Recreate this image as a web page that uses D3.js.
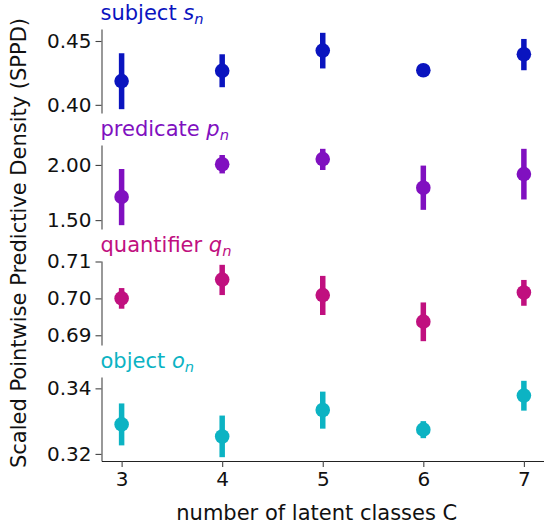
<!DOCTYPE html>
<html>
<head>
<meta charset="utf-8">
<script src="https://cdn.jsdelivr.net/npm/d3@7"></script>
<style>
  html, body { margin: 0; padding: 0; background: #fff; }
  svg { display: block; }
  text { font-family: "DejaVu Sans", sans-serif; }
</style>
</head>
<body>
<svg id="chart" width="544" height="527"></svg>
<script>
// ---- data ----
const classes = [3, 4, 5, 6, 7];

const subjectMean = [0.4186, 0.4266, 0.4425, 0.4271, 0.4396];
const subjectLow  = [0.3966, 0.4138, 0.4285, 0.4271, 0.4271];
const subjectHigh = [0.4404, 0.4396, 0.4564, 0.4271, 0.4516];

const predicateMean = [1.710, 2.006, 2.053, 1.793, 1.917];
const predicateLow  = [1.454, 1.923, 1.954, 1.593, 1.687];
const predicateHigh = [1.963, 2.090, 2.146, 1.994, 2.146];

const quantifierMean = [0.7000, 0.7051, 0.7009, 0.6937, 0.7016];
const quantifierLow  = [0.6972, 0.7009, 0.6955, 0.6884, 0.6980];
const quantifierHigh = [0.7028, 0.7091, 0.7061, 0.6989, 0.7050];

const objectMean = [0.3290, 0.3253, 0.3334, 0.3274, 0.3378];
const objectLow  = [0.3226, 0.3190, 0.3277, 0.3248, 0.3332];
const objectHigh = [0.3354, 0.3317, 0.3390, 0.3300, 0.3423];

const subjectTicks = [0.40, 0.45];
const predicateTicks = [1.50, 2.00];
const quantifierTicks = [0.69, 0.70, 0.71];
const objectTicks = [0.32, 0.34];

const panelNames = ["subject", "predicate", "quantifier", "object"];
const panelSymbols = ["s", "p", "q", "o"];
const panelColors = ["#0a14bf", "#8010c0", "#c0107f", "#0cb3c3"];

const xLabel = "number of latent classes C";
const yLabel = "Scaled Pointwise Predictive Density (SPPD)";

// ---- layout ----
const W = 544, H = 527;
const left = 101.5, right = 544;
const top0 = 29, panelH = 84, gap = 32;
const fsTick = 20;
const fsLabel = 21;

const svg = d3.select("#chart");

const x = d3.scaleLinear().domain([2.8, 7.2]).range([left, right]);

const panels = [
  {mean: subjectMean, low: subjectLow, high: subjectHigh, ticks: subjectTicks},
  {mean: predicateMean, low: predicateLow, high: predicateHigh, ticks: predicateTicks},
  {mean: quantifierMean, low: quantifierLow, high: quantifierHigh, ticks: quantifierTicks},
  {mean: objectMean, low: objectLow, high: objectHigh, ticks: objectTicks}
];

panels.forEach((p, i) => {
  const t = top0 + i * (panelH + gap);
  const b = t + panelH;
  const mn = d3.min(p.low), mx = d3.max(p.high);
  const pad = (mx - mn) * 0.05;
  const y = d3.scaleLinear().domain([mn - pad, mx + pad]).range([b, t]);
  const color = panelColors[i];

  const g = svg.append("g");

  // y axis
  const yAxis = d3.axisLeft(y).tickValues(p.ticks).tickFormat(d3.format(".2f"))
    .tickSize(6).tickSizeOuter(0).tickPadding(4);
  const ya = g.append("g").attr("transform", `translate(${left},0)`).call(yAxis);
  ya.select(".domain").attr("stroke", "#444").attr("stroke-width", 1.1);
  ya.selectAll(".tick line").attr("stroke", "#444").attr("stroke-width", 1.1);
  ya.selectAll(".tick text").attr("font-size", fsTick).attr("fill", "#111")
    .attr("font-family", "DejaVu Sans, sans-serif");

  // x axis only for bottom panel
  if (i === panels.length - 1) {
    const xAxis = d3.axisBottom(x).tickValues(classes).tickFormat(d3.format("d"))
      .tickSize(6).tickSizeOuter(0).tickPadding(5);
    const xa = g.append("g").attr("transform", `translate(0,${b})`).call(xAxis);
    xa.select(".domain").attr("stroke", "#222").attr("stroke-width", 1.1);
    xa.selectAll(".tick line").attr("stroke", "#444").attr("stroke-width", 1.1);
    xa.selectAll(".tick text").attr("font-size", fsTick).attr("fill", "#111")
      .attr("font-family", "DejaVu Sans, sans-serif");
  }

  // error bars
  g.selectAll("line.err").data(classes).enter().append("line")
    .attr("class", "err")
    .attr("x1", d => x(d)).attr("x2", d => x(d))
    .attr("y1", (d, k) => y(p.low[k])).attr("y2", (d, k) => y(p.high[k]))
    .attr("stroke", color).attr("stroke-width", 5.5);

  // points
  g.selectAll("circle.pt").data(classes).enter().append("circle")
    .attr("class", "pt")
    .attr("cx", d => x(d)).attr("cy", (d, k) => y(p.mean[k]))
    .attr("r", 7.3).attr("fill", color);

  // title
  const title = g.append("text")
    .attr("x", left - 1).attr("y", t - 9)
    .attr("font-size", fsLabel).attr("fill", color);
  title.append("tspan").text(panelNames[i] + " ");
  title.append("tspan").attr("font-style", "italic").text(panelSymbols[i]);
  title.append("tspan").attr("font-style", "italic").attr("font-size", fsLabel * 0.7)
    .attr("dy", 4).text("n");
});

// x label
svg.append("text")
  .attr("x", (left + right) / 2 - 6).attr("y", 520)
  .attr("text-anchor", "middle").attr("font-size", fsLabel).attr("fill", "#111")
  .text(xLabel);

// y label
svg.append("text")
  .attr("transform", `translate(26,243) rotate(-90)`)
  .attr("text-anchor", "middle").attr("font-size", fsLabel).attr("fill", "#111")
  .text(yLabel);
</script>
</body>
</html>
